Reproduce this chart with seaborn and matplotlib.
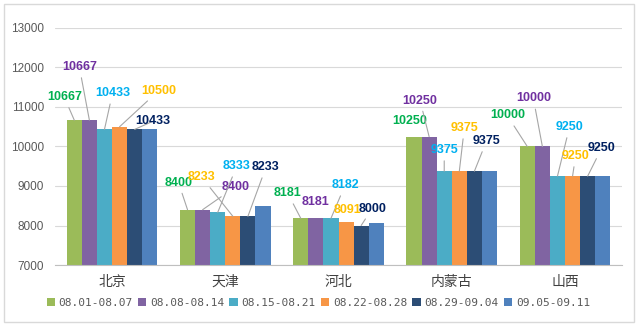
import matplotlib
matplotlib.use("Agg")
import matplotlib.pyplot as plt
import seaborn as sns
import pandas as pd
import numpy as np
from matplotlib.patches import Rectangle

# ---- data ----
categories = ["北京", "天津", "河北", "内蒙古", "山西"]
periods = ["08.01-08.07", "08.08-08.14", "08.15-08.21", "08.22-08.28", "08.29-09.04", "09.05-09.11"]
s1 = [10667, 8400, 8181, 10250, 10000]
s2 = [10667, 8400, 8181, 10250, 10000]
s3 = [10433, 8333, 8182, 9375, 9250]
s4 = [10500, 8233, 8091, 9375, 9250]
s5 = [10433, 8233, 8000, 9375, 9250]
s6 = [10433, 8500, 8070, 9375, 9250]
series = [s1, s2, s3, s4, s5, s6]
y_ticks = [7000, 8000, 9000, 10000, 11000, 12000, 13000]

# ---- styles ----
bar_colors = ["#9BBB59", "#8064A2", "#4BACC6", "#F79646", "#2C4D75", "#4F81BD"]
label_colors = ["#00B050", "#7030A0", "#00B0F0", "#FFC000", "#002060"]
# label offsets in pixels (dx, dy up) per series, per category
offsets = [
    [(-10, 23), (-9, 27), (-13, 25), (-4, 16), (-20, 31)],
    [(-10, 53), (33, 23), (0, 16), (-9, 36), (-9, 48)],
    [(8, 36), (19, 46), (14, 33), (0, 21), (12, 49)],
    [(39, 36), (-31, 39), (1, 12), (5, 43), (3, 20)],
    [(18, 8), (18, 49), (11, 17), (12, 30), (14, 28)],
]

rows = []
for p, vals in zip(periods, series):
    for c, v in zip(categories, vals):
        rows.append({"region": c, "period": p, "price": v})
df = pd.DataFrame(rows)

sns.set_theme(style="white")
plt.rcParams["font.family"] = ["Liberation Sans", "Noto Sans CJK SC", "DejaVu Sans"]

fig = plt.figure(figsize=(6.42, 3.29), dpi=100)
ax = fig.add_axes([0.0863, 0.1945, 0.882, 0.7205])

sns.barplot(data=df, x="region", y="price", hue="period", order=categories,
            hue_order=periods, palette=bar_colors, width=0.8, saturation=1,
            ax=ax, legend=True, linewidth=0)

ax.set_ylim(7000, 13000)
ax.set_yticks(y_ticks)
ax.set_yticklabels([str(t) for t in y_ticks], fontsize=8.5, color="#595959")
ax.set_xlabel("")
ax.set_ylabel("")
ax.set_xticks(range(len(categories)))
ax.set_xticklabels(categories, fontsize=10, color="#404040",
                   family=["Noto Sans CJK SC", "DejaVu Sans"])
ax.tick_params(axis="x", length=0, pad=7)
ax.tick_params(axis="y", length=0, pad=8)
ax.yaxis.grid(True, color="#D9D9D9", linewidth=0.8)
ax.set_axisbelow(True)
for s in ["top", "right", "left"]:
    ax.spines[s].set_visible(False)
ax.spines["bottom"].set_color("#BFBFBF")
ax.spines["bottom"].set_linewidth(0.8)

# data labels
for i, cont in enumerate(ax.containers):
    if i >= len(offsets):
        continue
    for j, bar in enumerate(cont):
        x = bar.get_x() + bar.get_width() / 2
        h = bar.get_height()
        dx, dy = offsets[i][j]
        dist = np.hypot(dx, dy)
        ap = None
        if dist > 17:
            ap = dict(arrowstyle="-", color="#A6A6A6", lw=0.8, shrinkA=1, shrinkB=0)
        ax.annotate(f"{series[i][j]}", xy=(x, h), xytext=(dx, dy),
                    textcoords="offset pixels", ha="center", va="center",
                    fontsize=9, fontweight="bold", color=label_colors[i],
                    arrowprops=ap, annotation_clip=False, zorder=5)

# legend
handles, labels = ax.get_legend_handles_labels()
ax.get_legend().remove()
leg = fig.legend(handles, labels, loc="center", bbox_to_anchor=(0.496, 0.079), ncol=6,
                 frameon=False, handlelength=0.75, handleheight=0.75,
                 handletextpad=0.35, columnspacing=0.45,
                 prop={"family": "DejaVu Sans Mono", "size": 8})
for t in leg.get_texts():
    t.set_color("#595959")

# chart border
fig.patches.append(Rectangle((0.006, 0.02), 0.982, 0.968, transform=fig.transFigure,
                             fill=False, edgecolor="#D9D9D9", linewidth=1))

fig.savefig("out.png", dpi=100)
